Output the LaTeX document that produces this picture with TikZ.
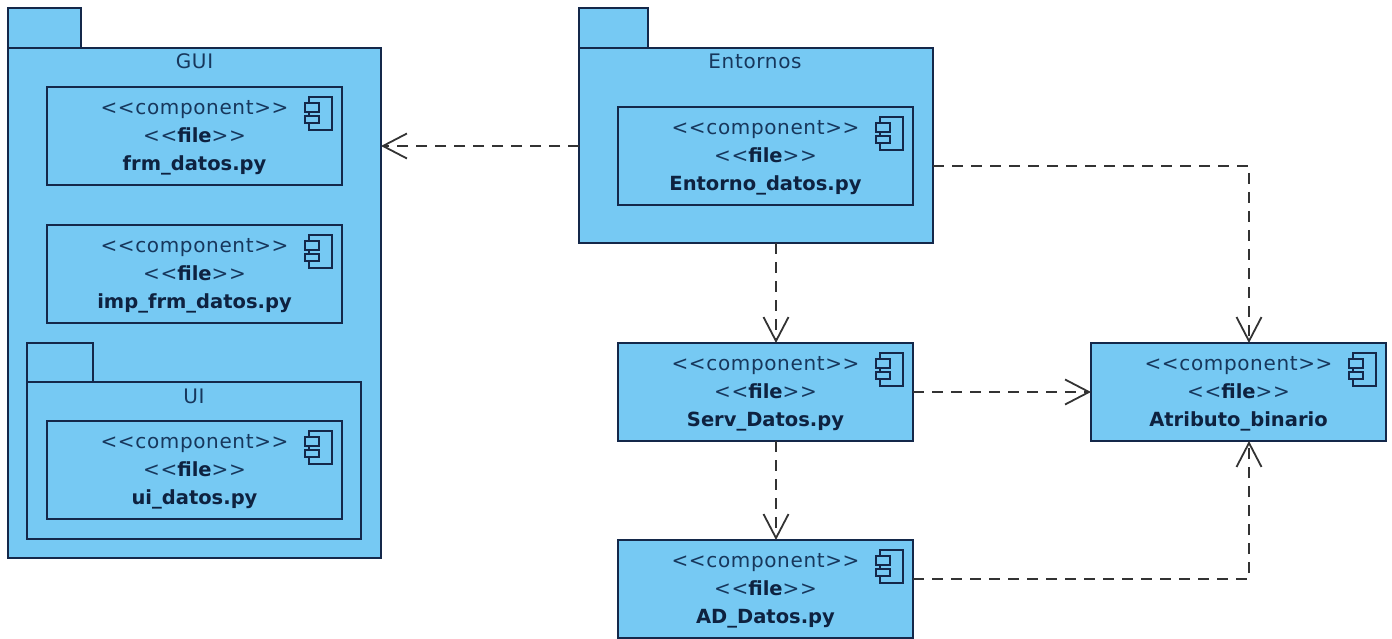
\documentclass[tikz,border=0pt]{standalone}
\usepackage{fontspec}
\setmainfont[LetterSpace=3.2,BoldFeatures={LetterSpace=0}]{DejaVu Sans}
\usetikzlibrary{arrows.meta,calc}
\definecolor{umlfill}{HTML}{76C9F3}
\definecolor{umlline}{HTML}{14284A}
\definecolor{umltext}{HTML}{17375C}
\definecolor{umlbold}{HTML}{0E2240}
\definecolor{umlarrow}{HTML}{333333}
\tikzset{
  x=1pt,y=1pt,
  box/.style={draw=umlline,fill=umlfill,line width=1.8pt,rectangle,inner sep=0pt,outer sep=0pt},
  compbox/.style={box,minimum width=295pt,minimum height=98pt},
  comptext/.style={text=umltext,align=center,inner sep=0pt,font=\fontsize{20}{28}\selectfont},
  pkgbody/.style={box,anchor=north west},
  pkgtab/.style={box,anchor=south west},
  pkgname/.style={text=umltext,font=\fontsize{20}{24}\selectfont,inner sep=0pt},
  icon/.style={draw=umlline,fill=umlfill,line width=1.5pt},
  dep/.style={draw=umlarrow,line width=1.6pt,dash pattern=on 11pt off 8pt,-{Straight Barb[length=24pt,width=25pt,line width=1.8pt]}},
}
\newcommand{\bfname}[1]{{\fontsize{19.5}{28}\selectfont\bfseries\color{umlbold}#1}}
\newcommand{\comp}[4]{% name, left, top, filename
  \node[compbox,anchor=north west] (#1) at (#2,-#3) {};
  \node[comptext] (#1txt) at ($(#1.center)+(0,-2)$) {<{}<component>{}>\\<{}<\bfname{file}>{}>\\\bfname{#4}};
  \draw[icon] ($(#1.north east)+(-33,-10)$) rectangle ($(#1.north east)+(-10,-43)$);
  \draw[icon] ($(#1.north east)+(-37,-16)$) rectangle ($(#1.north east)+(-23,-25)$);
  \draw[icon] ($(#1.north east)+(-37,-29)$) rectangle ($(#1.north east)+(-23,-36)$);
}
\begin{document}
\begin{tikzpicture}
\useasboundingbox (0,0) rectangle (1392,-639);
% GUI package
\node[pkgtab,minimum width=73pt,minimum height=40pt] (guitab) at (8,-48) {};
\node[pkgbody,minimum width=373pt,minimum height=510pt] (gui) at (8,-48) {};
\node[pkgname] (guiname) at (194.5,-61) {GUI};
\comp{frm}{47}{87}{frm\_datos.py}
\comp{imp}{47}{225}{imp\_frm\_datos.py}
% UI package
\node[pkgtab,minimum width=66pt,minimum height=39pt] (uitab) at (27,-382) {};
\node[pkgbody,minimum width=334pt,minimum height=157pt] (uib) at (27,-382) {};
\node[pkgname] (uiname) at (194,-396) {UI};
\comp{ui}{47}{421}{ui\_datos.py}
% Entornos package
\node[pkgtab,minimum width=69pt,minimum height=40pt] (enttab) at (579,-48) {};
\node[pkgbody,minimum width=354pt,minimum height=195pt] (entb) at (579,-48) {};
\node[pkgname] (entname) at (755,-61) {Entornos};
\comp{ent}{618}{107}{Entorno\_datos.py}
% Free components
\comp{serv}{618}{343}{Serv\_Datos.py}
\comp{ad}{618}{540}{AD\_Datos.py}
\comp{atr}{1091}{343}{Atributo\_binario}
% Connectors
\draw[dep] ([yshift=-0.5pt]entb.west) -- ([yshift=-0.5pt]gui.east |- entb.west);
\draw[dep] ([yshift=-20.5pt]entb.east) -| ([xshift=10.5pt]atr.north);
\draw[dep] ([xshift=20pt]entb.south) -- ([xshift=10.5pt]serv.north);
\draw[dep] (serv.east) -- (atr.west);
\draw[dep] ([xshift=10.5pt]serv.south) -- ([xshift=10.5pt]ad.north);
\draw[dep] ([yshift=10pt]ad.east) -| ([xshift=10.5pt]atr.south);
\end{tikzpicture}
\end{document}
